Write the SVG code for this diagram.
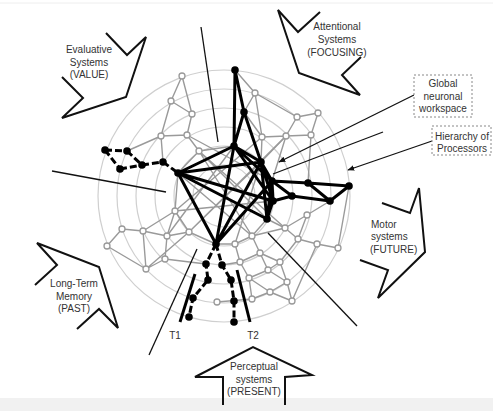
<svg xmlns="http://www.w3.org/2000/svg" width="493" height="411" viewBox="0 0 493 411">
<style>
text{font-family:"Liberation Sans",Arial,sans-serif;font-size:10px;fill:#333}
.ring{fill:none;stroke:#cfcfcf;stroke-width:1.2}
.g{stroke:#9a9a9a;stroke-width:1.4;fill:none}
.b{stroke:#000;stroke-width:3;fill:none;stroke-linecap:round}
.bd{stroke:#000;stroke-width:3;fill:none;stroke-dasharray:7 3}
.ray{stroke:#111;stroke-width:1.3;fill:none}
.big{stroke:#111;stroke-width:2;fill:none;stroke-linejoin:miter}
.wn{fill:#fff;stroke:#999;stroke-width:1.3}
.bn{fill:#000}
.box{fill:#fff;stroke:#888;stroke-width:1;stroke-dasharray:2 2}
</style>
<defs>
<marker id="ah" viewBox="0 0 10 10" refX="9" refY="5" markerWidth="7" markerHeight="7" orient="auto" markerUnits="userSpaceOnUse">
<path d="M0,1 L10,5 L0,9 z" fill="#111"/>
</marker>
</defs>
<rect width="493" height="411" fill="#fff"/>
<line x1="0" y1="3" x2="493" y2="3" stroke="#eee" stroke-width="1"/>
<rect x="0" y="398" width="493" height="13" fill="#f1f1f1"/>

<g id="rings">
<circle class="ring" cx="224" cy="196" r="126"/>
<circle class="ring" cx="224" cy="196" r="107"/>
<circle class="ring" cx="224" cy="196" r="88"/>
<circle class="ring" cx="224" cy="196" r="69"/>
<circle class="ring" cx="224" cy="196" r="50"/>
<circle class="ring" cx="224" cy="196" r="31"/>
</g>

<g id="connectors">
<g id="grey-edges" class="g">
<path d="M182,76 L171,101 M182,76 L192,114 M171,101 L192,114 M171,101 L161,136 M192,114 L187,135 M161,136 L187,135 M187,135 L199,151 M161,136 L127,151 M161,136 L163,162 M199,151 L234,146 M199,151 L178,173"/>
<path d="M235,70 L255,93 M255,93 L244,112 M255,93 L297,117 M297,117 L318,113 M318,113 L311,135 M297,117 L286,136 M286,136 L311,135 M262,137 L286,136 M255,93 L262,137 M244,112 L262,137 M262,137 L261,162 M286,136 L272,181 M311,135 L308,183 M286,136 L261,162"/>
<path d="M330,201 L307,215 M307,215 L285,228 M285,228 L298,239 M298,239 L317,244 M317,244 L338,248 M307,215 L298,239 M267,219 L285,228 M338,248 L349,186"/>
<path d="M267,219 L252,236 M252,236 L235,244 M252,236 L285,228 M252,236 L260,253 M260,253 L280,262 M280,262 L298,239 M235,244 L240,262 M240,262 L260,253 M240,262 L249,278 M260,253 L268,270 M268,270 L280,262 M268,270 L249,278 M268,270 L287,282 M280,262 L287,282 M249,278 L252,299 M249,278 L270,292 M287,282 L270,292 M270,292 L252,299 M270,292 L292,301 M287,282 L292,301 M252,299 L217,302 M235,244 L216,244 M240,262 L222,265 M317,244 L292,301"/>
<path d="M122,229 L143,231 M143,231 L167,236 M167,236 L189,232 M175,211 L167,236 M175,211 L189,232 M175,211 L143,231 M122,229 L107,246 M143,231 L146,269 M167,236 L165,259 M146,269 L165,259 M146,269 L189,232 M107,246 L146,269 M189,232 L216,244 M175,211 L178,173 M165,259 L206,264"/>
<path d="M199,151 L252,236 M175,211 L262,137 M189,232 L261,162 M175,211 L273,201 M199,151 L267,219 M167,236 L234,146 M187,135 L272,181 M178,173 L252,236 M189,232 L286,136 M235,244 L261,162 M199,151 L285,228"/>
</g>
<g id="workspace-edges">
<path class="b" d="M235,70 L244,112 M235,70 L234,146 M244,112 L234,146 M244,112 L261,162 M234,146 L261,162 M234,146 L272,181 M234,146 L273,201 M261,162 L272,181 M261,162 L273,201 M272,181 L273,201 M272,181 L267,219 M273,201 L267,219 M261,162 L267,219 M234,146 L178,173 M234,146 L216,244 M178,173 L261,162 M178,173 L273,201 M178,173 L267,219 M178,173 L216,244 M216,244 L261,162 M216,244 L272,181"/>
<path class="b" d="M272,181 L308,183 M308,183 L349,186 M272,181 L292,196 M308,183 L330,201 M349,186 L330,201 M273,201 L292,196 M292,196 L330,201"/>
<path class="bd" d="M105,150 L127,151 M105,150 L120,169 M127,151 L142,165 M120,169 L142,165 M142,165 L163,162 M163,162 L178,173"/>
<path class="bd" d="M216,244 L206,264 L208,280 L193,298 L189,317 M216,244 L222,265 L231,280 L234,301 L234,322"/>
</g>
<g id="rays">
<line class="ray" x1="201" y1="27" x2="218" y2="142"/>
<line class="ray" x1="52" y1="171" x2="166" y2="192"/>
<line class="ray" x1="383" y1="132" x2="273" y2="174"/>
<line class="ray" x1="268" y1="233" x2="357" y2="326"/>
<line class="ray" x1="197" y1="249" x2="149" y2="355"/>
<line class="ray" x1="414" y1="95" x2="279" y2="162" marker-end="url(#ah)"/>
<line class="ray" x1="432" y1="141" x2="348" y2="170" marker-end="url(#ah)"/>
<line x1="180" y1="322" x2="195" y2="274" stroke="#000" stroke-width="3"/>
<line x1="237" y1="270" x2="250" y2="322" stroke="#000" stroke-width="3"/>
</g>
</g>

<g id="white-nodes" class="wn">
<circle cx="182" cy="76" r="3"/><circle cx="171" cy="101" r="3"/><circle cx="192" cy="114" r="3"/><circle cx="161" cy="136" r="3"/><circle cx="187" cy="135" r="3"/><circle cx="199" cy="151" r="3"/>
<circle cx="255" cy="93" r="3"/><circle cx="297" cy="117" r="3"/><circle cx="318" cy="113" r="3"/><circle cx="262" cy="137" r="3"/><circle cx="286" cy="136" r="3"/><circle cx="311" cy="135" r="3"/>
<circle cx="307" cy="215" r="3"/><circle cx="285" cy="228" r="3"/><circle cx="298" cy="239" r="3"/><circle cx="317" cy="244" r="3"/><circle cx="338" cy="248" r="3"/>
<circle cx="252" cy="236" r="3"/><circle cx="235" cy="244" r="3"/><circle cx="260" cy="253" r="3"/><circle cx="280" cy="262" r="3"/><circle cx="240" cy="262" r="3"/><circle cx="268" cy="270" r="3"/><circle cx="249" cy="278" r="3"/><circle cx="287" cy="282" r="3"/><circle cx="270" cy="292" r="3"/><circle cx="252" cy="299" r="3"/><circle cx="292" cy="301" r="3"/><circle cx="217" cy="302" r="3"/>
<circle cx="175" cy="211" r="3"/><circle cx="122" cy="229" r="3"/><circle cx="143" cy="231" r="3"/><circle cx="167" cy="236" r="3"/><circle cx="189" cy="232" r="3"/><circle cx="107" cy="246" r="3"/><circle cx="165" cy="259" r="3"/><circle cx="146" cy="269" r="3"/>
</g>

<g id="workspace-nodes" class="bn">
<circle cx="235" cy="70" r="3.8"/><circle cx="244" cy="112" r="3.8"/><circle cx="234" cy="146" r="3.8"/><circle cx="261" cy="162" r="3.8"/><circle cx="272" cy="181" r="3.8"/><circle cx="273" cy="201" r="3.8"/><circle cx="267" cy="219" r="3.8"/><circle cx="216" cy="244" r="3.8"/><circle cx="178" cy="173" r="3.8"/><circle cx="163" cy="162" r="3.8"/>
<circle cx="105" cy="150" r="3.8"/><circle cx="127" cy="151" r="3.8"/><circle cx="120" cy="169" r="3.8"/><circle cx="142" cy="165" r="3.8"/>
<circle cx="308" cy="183" r="3.8"/><circle cx="349" cy="186" r="3.8"/><circle cx="292" cy="196" r="3.8"/><circle cx="330" cy="201" r="3.8"/>
<circle cx="206" cy="264" r="3.8"/><circle cx="208" cy="280" r="3.8"/><circle cx="193" cy="298" r="3.8"/><circle cx="189" cy="317" r="3.8"/>
<circle cx="222" cy="265" r="3.8"/><circle cx="231" cy="280" r="3.8"/><circle cx="234" cy="301" r="3.8"/><circle cx="234" cy="322" r="3.8"/>
</g>

<g id="evaluative">
<polyline class="big" points="106,33 127,55 146,37 126,97 62,118 83,98 62,77"/>
<text x="89" y="53" text-anchor="middle">Evaluative</text>
<text x="89" y="66" text-anchor="middle">Systems</text>
<text x="89" y="78" text-anchor="middle">(VALUE)</text>
</g>
<g id="attentional">
<polyline class="big" points="320,12 298,32 278,10 299,73 360,95 342,75 361,57"/>
<text x="337" y="30" text-anchor="middle">Attentional</text>
<text x="337" y="43" text-anchor="middle">Systems</text>
<text x="337" y="56" text-anchor="middle">(FOCUSING)</text>
</g>
<g id="global">
<rect class="box" x="414" y="75" width="58" height="42"/>
<text x="443" y="87" text-anchor="middle">Global</text>
<text x="443" y="100" text-anchor="middle">neuronal</text>
<text x="443" y="112" text-anchor="middle">workspace</text>
</g>
<g id="hierarchy">
<rect class="box" x="432" y="126" width="59" height="29"/>
<text x="462" y="140" text-anchor="middle">Hierarchy of</text>
<text x="462" y="152" text-anchor="middle">Processors</text>
</g>
<g id="motor">
<polyline class="big" points="382,203 410,213 419,188 425,252 378,298 388,270 360,260"/>
<text x="371" y="228">Motor</text>
<text x="371" y="240">systems</text>
<text x="370" y="253">(FUTURE)</text>
</g>
<g id="longterm">
<polyline class="big" points="35,285 57,265 37,243 99,267 118,328 99,309 77,329"/>
<text x="74" y="287" text-anchor="middle">Long-Term</text>
<text x="74" y="300" text-anchor="middle">Memory</text>
<text x="74" y="312" text-anchor="middle">(PAST)</text>
</g>
<g id="perceptual">
<polyline class="big" points="223,405 223,377 195,377 253,347 312,375 285,377 285,405"/>
<text x="254" y="370" text-anchor="middle">Perceptual</text>
<text x="254" y="383" text-anchor="middle">systems</text>
<text x="254" y="395" text-anchor="middle">(PRESENT)</text>
</g>
<g id="t-labels">
<text x="175" y="339" text-anchor="middle">T1</text>
<text x="253" y="339" text-anchor="middle">T2</text>
</g>
</svg>
